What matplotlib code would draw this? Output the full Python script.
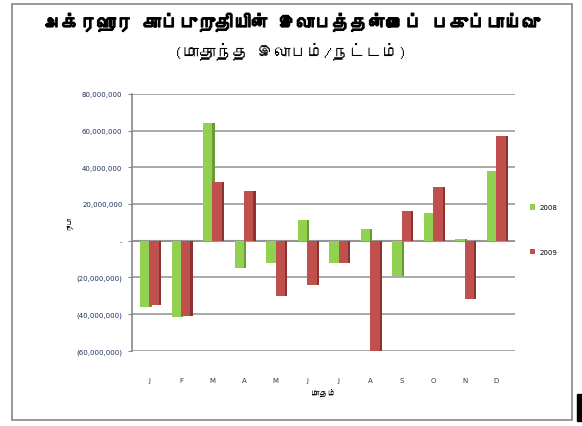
import numpy as np
import matplotlib.pyplot as plt
import matplotlib.patheffects as pe
from matplotlib import font_manager as fm
from matplotlib.ft2font import FT2Font
from matplotlib.patches import Rectangle

# Tamil font lookup (first installed font that has Tamil glyphs)
tamil_font = None
for f in fm.fontManager.ttflist:
    try:
        if ord('க') in FT2Font(f.fname).get_charmap():
            tamil_font = f.name
            break
    except Exception:
        pass
families = [tamil_font, 'DejaVu Sans'] if tamil_font else ['DejaVu Sans']

# Data
months = ['J', 'F', 'M', 'A', 'M', 'J', 'J', 'A', 'S', 'O', 'N', 'D']
series_2008 = [-36, -41.5, 64, -15, -12, 11, -12, 6.5, -19, 15, 1, 38]   # millions
series_2009 = [-35, -41, 32, 27, -30, -24, -12, -60, 16, 29, -32, 57]
yticks = [-60, -40, -20, 0, 20, 40, 60, 80]
title = 'அக்ரஹார காப்புறுதியின் இலாபத்தன்மைப் பகுப்பாய்வு'
subtitle = '(மாதாந்த இலாபம்/நட்டம்)'

def fmt(v):
    if v == 0:
        return '-'
    s = f'{abs(v) * 1_000_000:,.0f}'
    return f'({s})' if v < 0 else s

fig = plt.figure(figsize=(5.82, 4.27), dpi=100)
ax = fig.add_axes([0.227, 0.176, 0.658, 0.602])

x = np.arange(len(months))
w = 0.3
green, green_d = '#92D050', '#6A9A35'
red, red_d = '#C0504D', '#8A3431'

# side faces for a bit of 3D look
ax.bar(x - w / 2 + 0.07, series_2008, w, color=green_d, zorder=2)
ax.bar(x - w / 2, series_2008, w, color=green, zorder=3, label='2008')
ax.bar(x + w / 2 + 0.07, series_2009, w, color=red_d, zorder=4)
ax.bar(x + w / 2, series_2009, w, color=red, zorder=5, label='2009')

ax.set_ylim(-60, 80)
ax.set_xlim(-0.55, 11.6)
ax.set_yticks(yticks)
ax.set_yticklabels([fmt(v) for v in yticks], fontsize=5, color='#1F2F5F')
ax.set_xticks(x)
ax.set_xticklabels(months, fontsize=5, color='#333355')
ax.tick_params(axis='x', length=0, pad=19)
ax.tick_params(axis='y', length=3, color='#888888', pad=4)
ax.yaxis.grid(True, color='#999999', linewidth=1.2, zorder=0)
for s in ['top', 'right', 'bottom']:
    ax.spines[s].set_visible(False)
ax.spines['left'].set_color('#888888')
ax.spines['left'].set_linewidth(1.2)
ax.axhline(0, color='#888888', linewidth=1.5, zorder=1)

ax.set_xlabel('மாதம்', fontsize=6, family=families, fontweight='bold', labelpad=3)
ax.set_ylabel('ரூபா', fontsize=5, family=families, labelpad=3)

bold = [pe.withStroke(linewidth=1.1, foreground='black')]
fig.text(0.5, 0.945, title, ha='center', va='center', fontsize=13,
         fontweight='bold', family=families, path_effects=bold)
fig.text(0.5, 0.88, subtitle, ha='center', va='center', fontsize=12,
         family=families)

fig.legend(loc='center left', bbox_to_anchor=(0.9, 0.46), frameon=False,
           fontsize=5, handlelength=0.7, handleheight=0.9, labelspacing=5.5,
           handletextpad=0.6)

fig.patches.append(Rectangle((12 / 582, 1 - 421 / 427), 560 / 582, 416 / 427,
                             transform=fig.transFigure, fill=False,
                             edgecolor='#888888', linewidth=1.2))
fig.patches.append(Rectangle((577 / 582, 1 - 422 / 427), 5 / 582, 27 / 427,
                             transform=fig.transFigure, color='black'))

fig.savefig('out.png', dpi=100)
